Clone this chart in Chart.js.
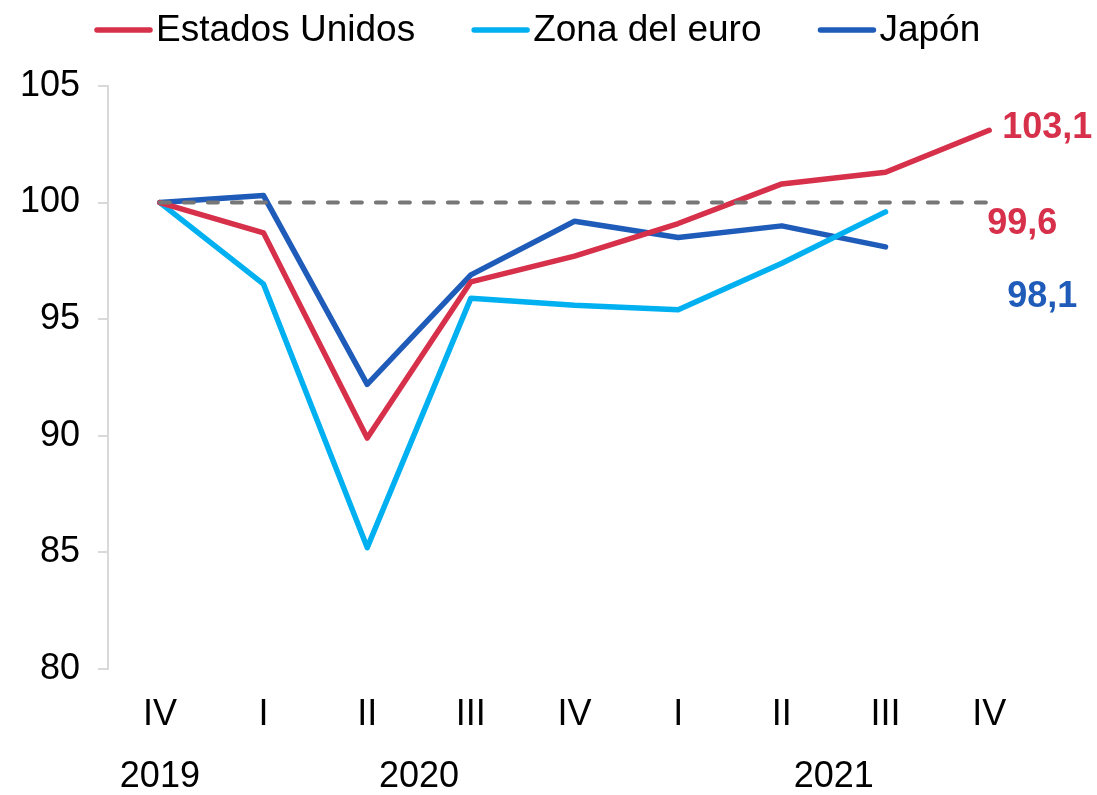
<!DOCTYPE html>
<html>
<head>
<meta charset="utf-8">
<script src="https://cdn.jsdelivr.net/npm/chart.js@4/dist/chart.umd.min.js"></script>
<style>
  html, body { margin: 0; padding: 0; background: #fff; }
  #wrap { width: 1097px; height: 795px; position: relative; }
</style>
</head>
<body>
<div id="wrap"><canvas id="chart"></canvas></div>
<script>
const quarters = ['IV', 'I', 'II', 'III', 'IV', 'I', 'II', 'III', 'IV'];
const years = ['2019', '2020', '2021'];
const yearAt = [0, 2.5, 6.5];

const estadosUnidos = [100, 98.7, 89.9, 96.6, 97.7, 99.1, 100.8, 101.3, 103.1];
const zonaEuro = [100, 96.5, 85.2, 95.9, 95.6, 95.4, 97.4, 99.6, null];
const japon = [100, 100.3, 92.2, 96.9, 99.2, 98.5, 99.0, 98.1, null];
const base = [100, 100, 100, 100, 100, 100, 100, 100, 100];

const RED = '#d7304a';
const CYAN = '#00b0f0';
const BLUE = '#1f5cb9';
const FONT = "'Liberation Sans', Arial, sans-serif";

Chart.defaults.font.family = FONT;
Chart.defaults.color = '#000';

// legend, last-value labels and year row
const extras = {
    id: 'extras',
    afterDatasetsDraw(chart) {
        const ctx = chart.ctx;
        const x = chart.scales.x;
        const y = chart.scales.y;
        const fmt = v => v.toFixed(1).replace('.', ',');
        const last = arr => {
            let i = arr.length - 1;
            while (arr[i] == null) i--;
            return i;
        };
        ctx.save();

        // legend
        ctx.font = "37px " + FONT;
        ctx.textBaseline = 'middle';
        ctx.textAlign = 'left';
        let lx = 95;
        chart.data.datasets.filter(d => d.label !== 'base').forEach(d => {
            ctx.strokeStyle = d.borderColor;
            ctx.lineWidth = 5.5;
            ctx.lineCap = 'round';
            ctx.beginPath();
            ctx.moveTo(lx + 2, 30);
            ctx.lineTo(lx + 55, 30);
            ctx.stroke();
            ctx.fillStyle = '#000';
            ctx.fillText(d.label, lx + 61, 31);
            lx += 61 + ctx.measureText(d.label).width + 57;
        });

        ctx.font = "bold 36px " + FONT;
        let i = last(estadosUnidos);
        ctx.fillStyle = RED;
        ctx.fillText(fmt(estadosUnidos[i]), x.getPixelForValue(i) + 13, y.getPixelForValue(estadosUnidos[i]) - 2);

        i = last(zonaEuro);
        ctx.fillStyle = RED;
        ctx.fillText(fmt(zonaEuro[i]), x.getPixelForValue(i + 1) - 2, y.getPixelForValue(zonaEuro[i]) + 12);

        i = last(japon);
        ctx.fillStyle = BLUE;
        ctx.fillText(fmt(japon[i]), x.getPixelForValue(i + 1) + 18, y.getPixelForValue(japon[i]) + 50);

        ctx.font = "36px " + FONT;
        ctx.fillStyle = '#000';
        ctx.textAlign = 'center';
        years.forEach((yr, k) => {
            const a = Math.floor(yearAt[k]), b = Math.ceil(yearAt[k]);
            const px = (x.getPixelForValue(a) + x.getPixelForValue(b)) / 2;
            ctx.fillText(yr, px, chart.chartArea.bottom + 108);
        });
        ctx.restore();
    }
};

const line = (label, data, color) => ({
    label, data,
    borderColor: color,
    backgroundColor: color,
    borderWidth: 5.5,
    pointRadius: 0,
    tension: 0,
    borderCapStyle: 'round',
    borderJoinStyle: 'round'
});

new Chart(document.getElementById('chart'), {
    type: 'line',
    data: {
        labels: quarters,
        datasets: [
            {
                label: 'base',
                data: base,
                borderColor: '#777777',
                borderWidth: 4,
                borderDash: [10, 14],
                borderCapStyle: 'round',
                pointRadius: 0
            },
            line('Estados Unidos', estadosUnidos, RED),
            line('Zona del euro', zonaEuro, CYAN),
            line('Japón', japon, BLUE)
        ]
    },
    options: {
        responsive: true,
        maintainAspectRatio: false,
        animation: false,
        layout: { padding: { left: 2, right: 56, top: 86, bottom: 41 } },
        plugins: {
            tooltip: { enabled: false },
            legend: { display: false }
        },
        scales: {
            x: {
                offset: true,
                grid: { display: false },
                border: { display: false },
                ticks: { font: { size: 36 }, padding: 17, maxRotation: 0, color: '#000' }
            },
            y: {
                min: 80,
                max: 105,
                ticks: { stepSize: 5, font: { size: 36 }, padding: 18, color: '#000' },
                grid: { drawOnChartArea: false, drawTicks: true, tickLength: 10, color: '#d9d9d9', lineWidth: 2 },
                border: { color: '#d9d9d9', width: 2 }
            }
        }
    },
    plugins: [extras]
});
</script>
</body>
</html>
